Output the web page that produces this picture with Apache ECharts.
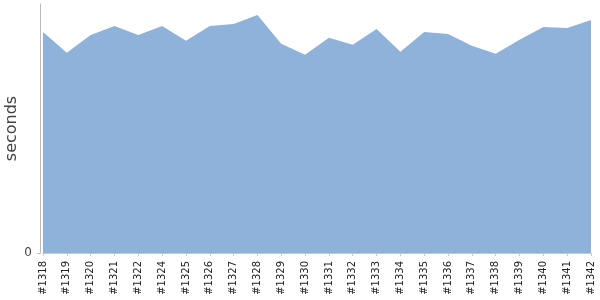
<!DOCTYPE html>
<html>
<head>
<meta charset="utf-8">
<script src="https://cdn.jsdelivr.net/npm/echarts@6/dist/echarts.min.js"></script>
<style>html,body{margin:0;padding:0;background:#fff}#c{width:600px;height:300px}</style>
</head>
<body>
<div id="c"></div>
<script>
const builds = ['#1318','#1319','#1320','#1321','#1322','#1324','#1325','#1326','#1327','#1328','#1329','#1330','#1331','#1332','#1333','#1334','#1335','#1336','#1337','#1338','#1339','#1340','#1341','#1342'];
const seconds = [222,201,219,228,219,228,213,228,230,239,210,199,216,209,225,202,222,220,208,200,214,227,226,234];
const yMax = 250;
const yTicks = [0];

const chart = echarts.init(document.getElementById('c'), null, {renderer: 'canvas'});
chart.setOption({
  animation: false,
  textStyle: {fontFamily: 'DejaVu Sans'},
  grid: {left: 43, right: 9, top: 4, bottom: 47, containLabel: false, outerBoundsMode: 'none'},
  xAxis: {
    type: 'category',
    data: builds,
    boundaryGap: false,
    offset: 3,
    axisLine: {show: true, lineStyle: {color: '#c8c8c8', width: 1}},
    axisTick: {show: true, length: 3, alignWithLabel: true, lineStyle: {color: '#c8c8c8'}},
    axisLabel: {rotate: 90, interval: 0, fontSize: 10, color: '#222', margin: 5, fontFamily: 'DejaVu Sans'},
    splitLine: {show: false}
  },
  yAxis: {
    type: 'value',
    min: 0,
    max: yMax,
    offset: 3,
    name: 'seconds',
    nameLocation: 'middle',
    nameRotate: 90,
    nameGap: 20,
    nameMoveOverlap: false,
    nameTextStyle: {fontSize: 16, color: '#444', fontFamily: 'DejaVu Sans'},
    axisLine: {show: true, lineStyle: {color: '#bbbbbb', width: 1}},
    axisTick: {show: true, length: 3, customValues: yTicks, lineStyle: {color: '#bbbbbb'}},
    axisLabel: {customValues: yTicks, fontSize: 12, color: '#444', margin: 8, fontFamily: 'DejaVu Sans'},
    splitLine: {show: false}
  },
  series: [{
    type: 'line',
    data: seconds,
    symbol: 'none',
    lineStyle: {width: 0, color: '#8fb2da'},
    itemStyle: {color: '#8fb2da'},
    areaStyle: {color: '#8fb2da', opacity: 1}
  }]
});
</script>
</body>
</html>
